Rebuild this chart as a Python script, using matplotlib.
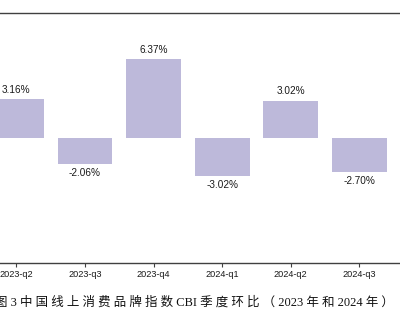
import matplotlib
matplotlib.use("Agg")
import matplotlib.pyplot as plt

# quarterly month-on-month change of the CBI index (visible part)
quarters = ["2023-q2", "2023-q3", "2023-q4", "2024-q1", "2024-q2", "2024-q3"]
changes = [3.16, -2.06, 6.37, -3.02, 3.02, -2.70]
caption = "图 3 中国线上消费品牌指数 CBI 季度环比（2023 年和 2024 年）"

bar_color = "#bdb9da"
line_color = "#404040"


def spread_cjk(s):
    # the caption in the source has loose spacing between Chinese characters
    out = ""
    for i, ch in enumerate(s):
        out += ch
        if i + 1 < len(s):
            nxt = s[i + 1]
            if ch != " " and nxt != " " and (ord(ch) > 0x2e80 or ord(nxt) > 0x2e80):
                out += " "
    return out


fig = plt.figure(figsize=(4.0, 3.24), dpi=100)
ax = fig.add_axes([0.0, 0.187, 1.0, 0.772])

x = list(range(len(quarters)))
ax.bar(x, changes, width=0.8, color=bar_color, zorder=2)

# value labels above / below each bar
for xi, v in zip(x, changes):
    off = 3 if v >= 0 else -3
    ax.annotate(f"{v:.2f}%", (xi, v), xytext=(0, off), textcoords="offset points",
                ha="center", va="bottom" if v >= 0 else "top",
                fontsize=7.2, family="Liberation Sans", color="#1a1a1a")

ax.set_xlim(-0.239, 5.592)
ax.set_ylim(-10, 10)
ax.set_xticks(x)
ax.set_xticklabels(quarters, fontsize=6.6, family="Liberation Sans", color="#1a1a1a")
ax.set_yticks([])
ax.tick_params(axis="x", length=3, width=0.8, color=line_color, pad=2)

for side in ["left", "right"]:
    ax.spines[side].set_visible(False)
for side in ["top", "bottom"]:
    ax.spines[side].set_color(line_color)
    ax.spines[side].set_linewidth(1.0)

fig.text(0.485, 0.065, spread_cjk(caption), ha="center", va="center", fontsize=9,
         family=["Liberation Serif", "Noto Sans CJK SC"], color="#111111")

fig.savefig("out.png", dpi=100)
